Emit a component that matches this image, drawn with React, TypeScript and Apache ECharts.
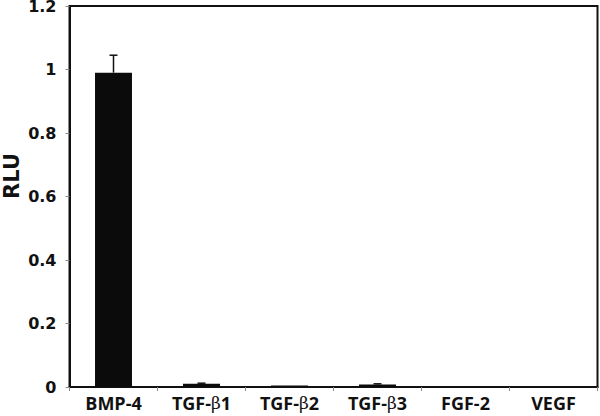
import React, { useEffect, useRef } from "react";
import * as echarts from "echarts";

const categories = ["BMP-4", "TGF-β1", "TGF-β2", "TGF-β3", "FGF-2", "VEGF"];
const values = [0.99, 0.01, 0.005, 0.008, 0.0, 0.0];
const errors = [0.055, 0.002, 0.001, 0.002, 0.0, 0.0];
const yTicks = [0, 0.2, 0.4, 0.6, 0.8, 1, 1.2];
const yTitle = "RLU";

export default function App() {
  const ref = useRef<HTMLDivElement>(null);
  useEffect(() => {
    document.body.style.margin = "0";
    const chart = echarts.init(ref.current!, null, { renderer: "svg" });
    const errData = categories.map((_, i) => [i, values[i], values[i] + errors[i]]);
    chart.setOption({
      animation: false,
      backgroundColor: "#fff",
      grid: {
        left: 69.5,
        top: 6,
        right: 2.5,
        bottom: 29,
        outerBoundsMode: "none",
        containLabel: false,
        show: true,
        borderColor: "#111",
        borderWidth: 2,
        backgroundColor: "transparent",
      },
      graphic: [
        {
          type: "text",
          x: 12,
          y: 176,
          rotation: Math.PI / 2,
          style: {
            text: yTitle,
            fill: "#111",
            fontFamily: "DejaVu Sans",
            fontWeight: "bold",
            fontSize: 21,
            lineHeight: 21,
            align: "center",
            verticalAlign: "middle",
          },
        },
      ],
      xAxis: {
        type: "category",
        data: categories,
        axisLine: { show: true, lineStyle: { color: "#111", width: 2 } },
        axisTick: { show: true, length: 4, lineStyle: { color: "#888", width: 1 } },
        axisLabel: {
          interval: 0,
          hideOverlap: false,
          color: "#111",
          fontFamily: "Open Sans",
          fontWeight: "bold",
          fontSize: 18,
          margin: 7,
          formatter: (v: string) => v.replace("β", "{b|β}"),
          rich: {
            b: {
              fontFamily: "DejaVu Serif",
              fontWeight: "normal",
              fontSize: 17,
              color: "#111",
            },
          },
        },
      },
      yAxis: {
        type: "value",
        min: 0,
        max: 1.2,
        interval: 0.2,
        splitLine: { show: false },
        axisLine: { show: true, lineStyle: { color: "#111", width: 2 } },
        axisTick: { show: true, length: 4, lineStyle: { color: "#888", width: 1 } },
        axisLabel: {
          color: "#111",
          fontFamily: "DejaVu Sans",
          fontWeight: "bold",
          fontSize: 16,
          lineHeight: 12,
          padding: [3, 0, 0, 0],
          margin: 13,
          formatter: (v: number) => {
            const t = yTicks.find((x) => Math.abs(x - v) < 1e-6);
            return t === undefined ? "" : String(t);
          },
        },
      },
      series: [
        {
          type: "bar",
          data: values,
          barWidth: "42%",
          itemStyle: { color: "#0b0b0b" },
        },
        {
          type: "custom",
          data: errData,
          z: 5,
          renderItem: (params: any, api: any) => {
            const i = api.value(0);
            const lo = api.coord([i, api.value(1)]);
            const hi = api.coord([i, api.value(2)]);
            if (Math.abs(lo[1] - hi[1]) < 0.5) return { type: "group", children: [] };
            const hw = 4;
            return {
              type: "group",
              children: [
                {
                  type: "line",
                  shape: { x1: lo[0], y1: lo[1], x2: hi[0], y2: hi[1] },
                  style: { stroke: "#111", lineWidth: 1.5 },
                },
                {
                  type: "line",
                  shape: { x1: hi[0] - hw, y1: hi[1], x2: hi[0] + hw, y2: hi[1] },
                  style: { stroke: "#111", lineWidth: 1.5 },
                },
              ],
            };
          },
        },
      ],
    });
    return () => chart.dispose();
  }, []);
  return <div ref={ref} style={{ width: 600, height: 416 }} />;
}
